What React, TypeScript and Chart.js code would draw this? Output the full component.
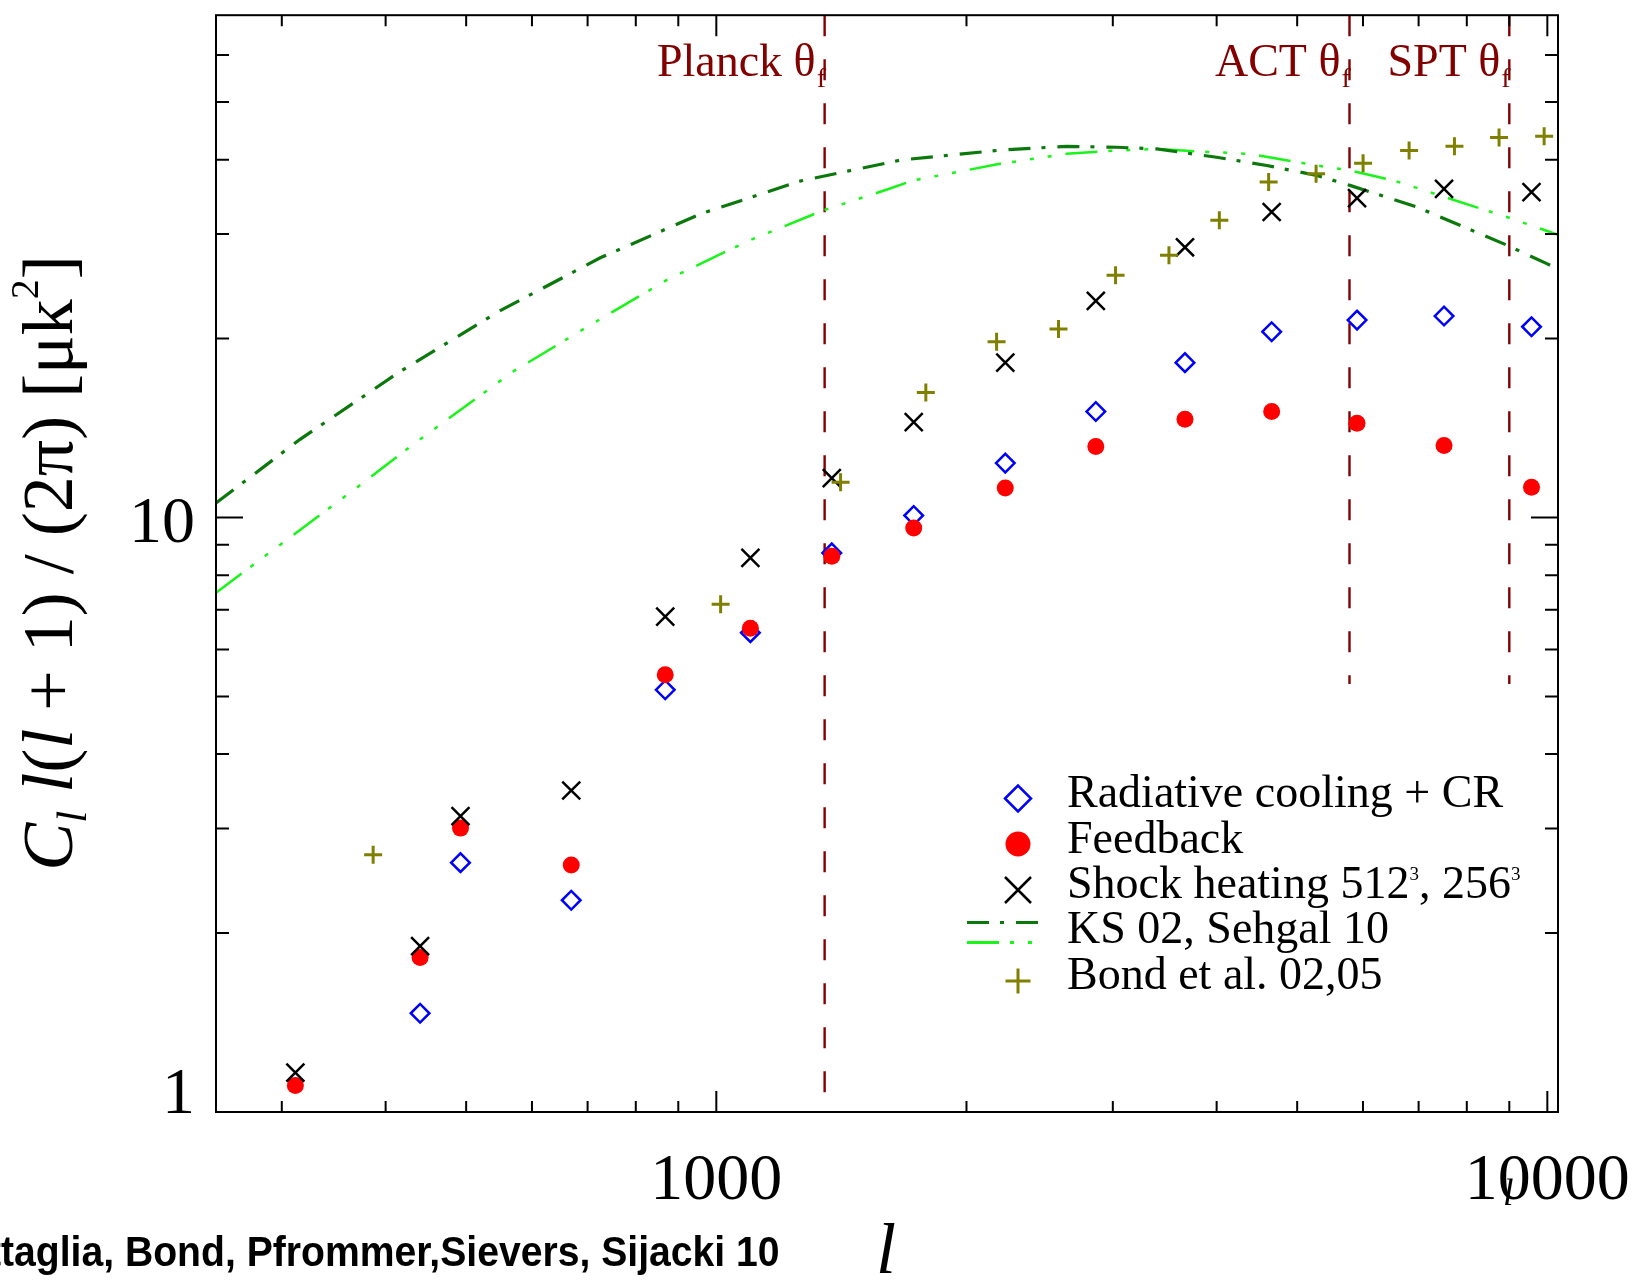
import React, { useEffect, useRef } from 'react';
import { Chart, registerables } from 'chart.js';

Chart.register(...registerables);

// ---------- axis ranges ----------
const ellMin = 250;
const ellMax = 10300;
const clMin = 1;
const clMax = 70;

// ---------- ticks ----------
const xMajorTicks = [1000, 10000];
const xMinorTicks = [300, 400, 500, 600, 700, 800, 900, 2000, 3000, 4000, 5000, 6000, 7000, 8000, 9000];
const xTickLabels = ['1000', '10000'];
const yMajorTicks = [1, 10];
const yMinorTicks = [2, 3, 4, 5, 6, 7, 8, 9, 20, 30, 40, 50, 60];
const yTickLabels = ['1', '10'];

// ---------- simulation bins (shared multipoles) ----------
const simEll = [311.5, 440.1, 492.2, 669.0, 868.0, 1099, 1377, 1728, 2227, 2862, 3664, 4659, 5902, 7511, 9571];
const shockHeating = [1.165, 1.901, 3.146, 3.474, 6.811, 8.554, 11.65, 14.47, 18.22, 23.15, 28.49, 32.66, 34.47, 35.73, 35.28];
const feedback = [1.108, 1.820, 3.003, 2.603, 5.438, 6.512, 8.610, 9.606, 11.21, 13.17, 14.64, 15.08, 14.41, 13.22, 11.25];
const radCoolingCR = [null, 1.466, 2.627, 2.271, 5.132, 6.402, 8.720, 10.08, 12.35, 15.08, 18.22, 20.54, 21.49, 21.83, 20.94];

// ---------- Bond et al. 02,05 ----------
const bondEll = [386.4, 1012, 1411, 1787, 2174, 2581, 3023, 3505, 4030, 4620, 5269, 6002, 6818, 7731, 8748, 9912];
const bondCl = [2.710, 7.145, 11.47, 16.23, 19.76, 20.76, 25.57, 27.63, 31.62, 36.67, 37.86, 39.46, 41.44, 42.13, 43.58, 43.80];

// ---------- KS 02 ----------
const ksEll = [250, 315.6, 416.4, 549.5, 725.0, 956.6, 1262, 1666, 2198, 2639, 3032, 3388, 4000, 4595, 5279, 5788, 6966, 8378, 8941, 9986, 10300];
const ksCl = [10.58, 13.54, 17.61, 22.29, 27.35, 32.41, 36.82, 39.94, 41.51, 42.13, 41.97, 41.70, 40.38, 39.11, 37.63, 36.21, 33.30, 29.85, 28.72, 26.74, 26.2];

// ---------- Sehgal 10 ----------
const sehgalEll = [250, 306.4, 375.5, 431.3, 569.2, 710.4, 874.4, 1097, 1345, 1602, 1725, 2194, 2639, 3032, 3388, 3820, 4387, 5279, 5788, 6530, 7639, 8941, 10078, 10300];
const sehgalCl = [7.473, 9.243, 11.43, 13.26, 17.60, 21.21, 25.16, 29.28, 32.87, 35.6, 36.91, 39.36, 40.91, 41.44, 41.70, 41.28, 40.91, 39.11, 38.36, 36.91, 34.38, 32.03, 30.23, 29.9];

// ---------- beam scales ----------
const beamNames = ['Planck', 'ACT', 'SPT'];
const beamEll = [1350, 5780, 9000];
const beamLineBottom = [1, 5.25, 5.25];

// ---------- texts ----------
const legendLabels = ['Radiative cooling + CR', 'Feedback', 'Shock heating 512', 'KS 02, Sehgal 10', 'Bond et al. 02,05'];
const creditText = 'Battaglia, Bond, Pfrommer,Sievers, Sijacki 10';

const SERIF = '"Liberation Serif", "Times New Roman", serif';
const SANS = '"Liberation Sans", Arial, sans-serif';
const DARKRED = '#820000';
const DARKGREEN = '#0b780b';
const LIGHTGREEN = '#19f419';
const OLIVE = '#808000';

const pts = (xs: number[], ys: (number | null)[]) =>
  xs.map((x, i) => ({ x, y: ys[i] })).filter((p) => p.y !== null);

function drawRich(ctx: CanvasRenderingContext2D, segs: { t: string; f: string; dy?: number }[], x0: number, y0: number) {
  let x = x0;
  segs.forEach((s) => {
    ctx.font = s.f;
    ctx.fillText(s.t, x, y0 + (s.dy || 0));
    x += ctx.measureText(s.t).width;
  });
  return x;
}
function richWidth(ctx: CanvasRenderingContext2D, segs: { t: string; f: string }[]) {
  let w = 0;
  segs.forEach((s) => {
    ctx.font = s.f;
    w += ctx.measureText(s.t).width;
  });
  return w;
}

const overlayPlugin = {
  id: 'overlay',
  afterDraw(chart: any) {
    const ctx: CanvasRenderingContext2D = chart.ctx;
    const { left, right, top, bottom } = chart.chartArea;
    const xs = chart.scales.x;
    const ys = chart.scales.y;
    ctx.save();

    // frame and inward ticks
    ctx.strokeStyle = '#000';
    ctx.lineWidth = 2;
    ctx.strokeRect(left, top, right - left, bottom - top);
    ctx.beginPath();
    const xt = (v: number, len: number) => {
      const p = xs.getPixelForValue(v);
      ctx.moveTo(p, bottom); ctx.lineTo(p, bottom - len);
      ctx.moveTo(p, top); ctx.lineTo(p, top + len);
    };
    const yt = (v: number, len: number) => {
      const p = ys.getPixelForValue(v);
      ctx.moveTo(left, p); ctx.lineTo(left + len, p);
      ctx.moveTo(right, p); ctx.lineTo(right - len, p);
    };
    xMajorTicks.forEach((v) => xt(v, 21));
    xMinorTicks.forEach((v) => xt(v, 11));
    yMajorTicks.forEach((v) => yt(v, 27));
    yMinorTicks.forEach((v) => yt(v, 13));
    ctx.stroke();

    // tick labels
    ctx.fillStyle = '#000';
    ctx.textBaseline = 'alphabetic';
    ctx.font = `66px ${SERIF}`;
    ctx.textAlign = 'center';
    xMajorTicks.forEach((v, i) => ctx.fillText(xTickLabels[i], xs.getPixelForValue(v), bottom + 87));
    ctx.textAlign = 'right';
    yMajorTicks.forEach((v, i) => {
      const p = ys.getPixelForValue(v);
      ctx.fillText(yTickLabels[i], left - 21, Math.min(p + 24, bottom + 1));
    });

    // x title (italic l) and the stray small l over 10000
    ctx.textAlign = 'left';
    ctx.font = `italic 72px ${SERIF}`;
    ctx.fillText('l', 876, bottom + 161);
    ctx.font = `italic 38px ${SERIF}`;
    ctx.fillText('l', 1503, bottom + 93);

    // y title
    ctx.save();
    ctx.translate(72, 563);
    ctx.rotate(-Math.PI / 2);
    const S = 72;
    const segs = [
      { t: 'C', f: `italic ${S}px ${SERIF}` },
      { t: 'l', f: `italic ${Math.round(S * 0.6)}px ${SERIF}`, dy: 14 },
      { t: ' ', f: `${S}px ${SERIF}` },
      { t: 'l', f: `italic ${S}px ${SERIF}` },
      { t: '(', f: `${S}px ${SERIF}` },
      { t: 'l', f: `italic ${S}px ${SERIF}` },
      { t: ' + 1) / (2\u03C0) [\u03BCk', f: `${S}px ${SERIF}` },
      { t: '2', f: `${Math.round(S * 0.55)}px ${SERIF}`, dy: -34 },
      { t: ']', f: `${S}px ${SERIF}` },
    ];
    ctx.textAlign = 'left';
    const tw = richWidth(ctx, segs);
    drawRich(ctx, segs, -tw / 2, 0);
    ctx.restore();

    // beam labels
    ctx.fillStyle = DARKRED;
    beamEll.forEach((l, i) => {
      const px = xs.getPixelForValue(l);
      ctx.textAlign = 'right';
      ctx.font = `46px ${SERIF}`;
      ctx.fillText(`${beamNames[i]} \u03B8`, px - 9, top + 61);
      ctx.textAlign = 'left';
      ctx.font = `28px ${SERIF}`;
      ctx.fillText('f', px - 8, top + 72);
    });

    // legend
    const symX = 1018;
    const txtX = 1067;
    const base = [807, 852.5, 897.5, 942.5, 989];
    const symY = [798.5, 844, 890, 932, 981];
    ctx.lineWidth = 2.5;
    // diamond
    ctx.strokeStyle = '#0000ff';
    ctx.beginPath();
    ctx.moveTo(symX - 13, symY[0]); ctx.lineTo(symX, symY[0] - 13);
    ctx.lineTo(symX + 13, symY[0]); ctx.lineTo(symX, symY[0] + 13); ctx.closePath();
    ctx.stroke();
    // circle
    ctx.fillStyle = '#ff0000';
    ctx.beginPath(); ctx.arc(symX, symY[1], 12.5, 0, Math.PI * 2); ctx.fill();
    // x
    ctx.strokeStyle = '#000';
    ctx.beginPath();
    ctx.moveTo(symX - 13, symY[2] - 13); ctx.lineTo(symX + 13, symY[2] + 13);
    ctx.moveTo(symX + 13, symY[2] - 13); ctx.lineTo(symX - 13, symY[2] + 13);
    ctx.stroke();
    // lines
    ctx.lineWidth = 3;
    ctx.strokeStyle = DARKGREEN;
    ctx.setLineDash([22, 11, 4, 12]);
    ctx.beginPath(); ctx.moveTo(967, 922.5); ctx.lineTo(1039, 922.5); ctx.stroke();
    ctx.strokeStyle = LIGHTGREEN;
    ctx.setLineDash([32, 11, 4, 14, 4, 14]);
    ctx.beginPath(); ctx.moveTo(967, 942.5); ctx.lineTo(1039, 942.5); ctx.stroke();
    ctx.setLineDash([]);
    // plus
    ctx.strokeStyle = OLIVE;
    ctx.lineWidth = 3;
    ctx.beginPath();
    ctx.moveTo(symX - 12.5, symY[4]); ctx.lineTo(symX + 12.5, symY[4]);
    ctx.moveTo(symX, symY[4] - 12.5); ctx.lineTo(symX, symY[4] + 12.5);
    ctx.stroke();
    // legend texts
    ctx.fillStyle = '#000';
    ctx.textAlign = 'left';
    ctx.font = `46px ${SERIF}`;
    legendLabels.forEach((t, i) => {
      if (i === 2) {
        drawRich(ctx, [
          { t, f: `46px ${SERIF}` },
          { t: '3', f: `19px ${SERIF}`, dy: -18 },
          { t: ', 256', f: `46px ${SERIF}` },
          { t: '3', f: `19px ${SERIF}`, dy: -18 },
        ], txtX, base[i]);
      } else {
        ctx.font = `46px ${SERIF}`;
        ctx.fillText(t, txtX, base[i]);
      }
    });

    // credit line (cut at the left edge)
    ctx.save();
    ctx.font = `bold 43px ${SANS}`;
    ctx.textAlign = 'left';
    const sx = 0.91;
    const cutW = ctx.measureText('Bat').width * sx;
    ctx.translate(-cutW + 1, 1266);
    ctx.scale(sx, 1);
    ctx.fillText(creditText, 0, 0);
    ctx.restore();

    ctx.restore();
  },
};

export default function App() {
  const ref = useRef<HTMLCanvasElement | null>(null);
  useEffect(() => {
    if (!ref.current) return;
    const lineSet = (data: any[], color: string, width: number, dash: number[]) => ({
      data,
      showLine: true,
      borderColor: color,
      borderWidth: width,
      borderDash: dash,
      pointRadius: 0,
      fill: false,
      tension: 0,
    });
    const chart = new Chart(ref.current, {
      type: 'scatter',
      data: {
        datasets: [
          {
            label: 'Bond et al. 02,05',
            data: pts(bondEll, bondCl),
            pointStyle: 'cross',
            pointRadius: 9,
            borderColor: OLIVE,
            borderWidth: 3,
          },
          {
            label: 'Shock heating',
            data: pts(simEll, shockHeating),
            pointStyle: 'crossRot',
            pointRadius: 12.7,
            borderColor: '#000',
            borderWidth: 2.5,
          },
          {
            label: 'Feedback',
            data: pts(simEll, feedback),
            pointStyle: 'circle',
            pointRadius: 8.5,
            backgroundColor: '#ff0000',
            borderColor: '#ff0000',
            borderWidth: 0,
          },
          {
            label: 'Radiative cooling + CR',
            data: pts(simEll, radCoolingCR),
            pointStyle: 'rectRot',
            pointRadius: 9.3,
            backgroundColor: 'rgba(0,0,0,0)',
            borderColor: '#0000ff',
            borderWidth: 2.5,
          },
          { label: 'KS 02', ...lineSet(pts(ksEll, ksCl), DARKGREEN, 3.2, [22, 11, 4, 12]) },
          { label: 'Sehgal 10', ...lineSet(pts(sehgalEll, sehgalCl), LIGHTGREEN, 2.5, [32, 11, 4, 14, 4, 14, 4, 14]) },
          ...beamEll.map((l, i) => ({
            label: beamNames[i],
            ...lineSet([{ x: l, y: clMax }, { x: l, y: beamLineBottom[i] }], DARKRED, 2.4, [21, 23]),
          })),
        ] as any,
      },
      options: {
        responsive: false,
        maintainAspectRatio: false,
        animation: false,
        devicePixelRatio: 1,
        layout: { padding: { left: 216, top: 13, right: 79, bottom: 168 } },
        plugins: { legend: { display: false }, tooltip: { enabled: false }, title: { display: false } },
        scales: {
          x: { type: 'logarithmic', min: ellMin, max: ellMax, display: false },
          y: { type: 'logarithmic', min: clMin, max: clMax, display: false },
        },
      } as any,
      plugins: [overlayPlugin],
    });
    return () => chart.destroy();
  }, []);
  return (
    <div style={{ position: 'absolute', left: 0, top: 0, width: 1637, height: 1280, background: '#fff' }}>
      <canvas ref={ref} width={1637} height={1280} style={{ display: 'block' }} />
    </div>
  );
}
